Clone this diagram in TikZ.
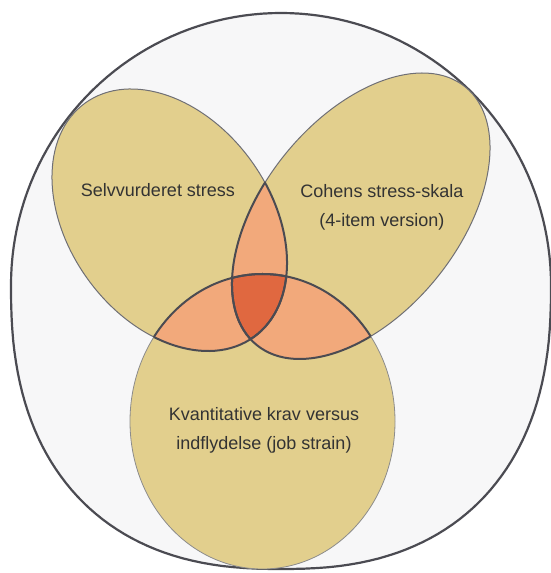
\documentclass[tikz,border=0pt]{standalone}
\usepackage{fontspec}
\setmainfont{Liberation Sans}
\usepackage{tikz}

\definecolor{khaki}{HTML}{E2CF8D}
\definecolor{salmon}{HTML}{F2A97B}
\definecolor{rust}{HTML}{E06840}
\definecolor{mist}{HTML}{F7F7F8}
\definecolor{ink}{HTML}{4B4B52}

\begin{document}
\begin{tikzpicture}[x=1pt,y=1pt]
      \tikzstyle{world}=[fill=mist,draw=ink,line width=2.2pt]
      \tikzstyle{set}=[fill=khaki,draw=ink!80,line width=1pt]
      \tikzstyle{setb}=[fill=khaki,draw=black!45,line width=0.8pt]
      \tikzstyle{lap}=[fill=salmon]
      \tikzstyle{core}=[fill=rust]
      \tikzstyle{rim}=[draw=ink,line width=2pt]
      \tikzstyle{label}=[inner sep=0pt,align=center,text=black!80,
        font=\fontsize{18}{29}\selectfont]

      \def\selv{(169.5,353) circle [x radius=144.2pt, y radius=100.9pt, rotate=-54.2]}
      \def\cohen{(361,357) circle [x radius=165.9pt, y radius=97.8pt, rotate=51.1]}
      \def\kvant{(262.5,151.5) circle [x radius=132.5pt, y radius=147.5pt]}

      \useasboundingbox (0,0) rectangle (550,573);

      % outer frame, a little flatter at the bottom
      \path[world] plot[domain=0:180,samples=91] ({281+270*cos(\x)},{288+272*sin(\x)})
        -- plot[domain=180:360,samples=90]
        ({281+270*sign(cos(\x))*max(abs(cos(\x)),0.0001)^0.8333},
         {288-284*max(abs(sin(\x)),0.0001)^0.8333}) -- cycle;

      \path[set] \selv;
      \path[set] \cohen;
      \path[setb] \kvant;

      % overlaps
      \begin{scope}
        \clip \selv;
        \path[lap] \cohen;
        \path[lap] \kvant;
      \end{scope}
      \begin{scope}
        \clip \cohen;
        \path[lap] \kvant;
      \end{scope}
      \begin{scope}
        \clip \selv;
        \clip \cohen;
        \path[core] \kvant;
      \end{scope}

      % borders inside the overlaps
      \begin{scope}
        \clip \selv;
        \path[rim] \cohen;
        \path[rim] \kvant;
      \end{scope}
      \begin{scope}
        \clip \cohen;
        \path[rim] \selv;
        \path[rim] \kvant;
      \end{scope}
      \begin{scope}
        \clip \kvant;
        \path[rim] \selv;
        \path[rim] \cohen;
      \end{scope}

      \node[label,anchor=base](selvlbl) at (158,376) {Selvvurderet stress};
      \node[label](cohenlbl) at (382,366.1) {Cohens stress-skala\\(4-item version)};
      \node[label](kvantlbl) at (264,143.1) {Kvantitative krav versus\\indflydelse (job strain)};
\end{tikzpicture}
\end{document}
